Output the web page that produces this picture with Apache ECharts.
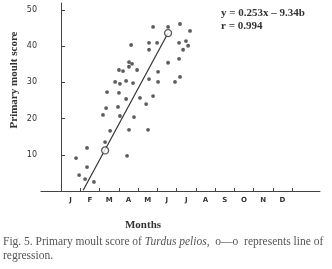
<!DOCTYPE html>
<html><head><meta charset="utf-8">
<script src="https://cdn.jsdelivr.net/npm/echarts@6/dist/echarts.min.js"></script>
<style>html,body{margin:0;padding:0;background:#fff}#c{width:332px;height:269px}</style>
</head><body><div id="c"></div>
<script>
// Month index (0 = start of January), moult score
const months = ['J','F','M','A','M','J','J','A','S','O','N','D'];
const monthTicks = [0,1,2,3,4,5,6,7,8,9,10,11,12];
const monthLabelPos = [0.5,1.5,2.5,3.5,4.5,5.5,6.5,7.5,8.5,9.5,10.5,11.5];
const yTicks = [10,20,30,40,50];
const pointMonth = [4.78,5.56,6.18,6.70,3.64,4.57,4.57,4.99,6.13,6.49,6.60,6.34,3.53,3.69,3.53,3.01,3.22,3.95,5.04,5.56,6.13,2.81,3.06,3.38,3.74,4.57,5.04,6.18,5.92,2.39,3.01,3.38,4.10,4.42,4.78,2.34,2.18,2.96,3.06,3.79,3.53,4.52,2.55,2.29,1.35,0.78,3.43,1.35,0.94,1.25,1.71];
const pointScore = [45.3,45.3,46.1,44.2,40.3,40.9,39.0,40.9,40.9,41.4,40.1,39.0,35.6,35.1,34.3,33.4,33.1,33.4,32.9,35.4,36.5,30.1,29.6,30.4,29.8,30.9,30.1,31.5,30.1,27.3,27.1,25.4,25.7,24.0,26.2,22.9,21.0,23.2,20.7,20.4,16.9,16.9,16.6,13.5,11.9,9.1,9.7,6.6,4.4,3.3,2.5];
const lineMonth = [1.15,5.56];
const lineScore = [0.2,43.6];
const circleMonth = [2.29,5.56];
const circleScore = [11.2,43.6];
const zip = (a,b)=>a.map((v,i)=>[v,b[i]]);

const chart = echarts.init(document.getElementById('c'));
const ink = '#333';
chart.setOption({
  animation:false,
  backgroundColor:'#fff',
  grid:{left:41,right:12,top:3,bottom:78},
  xAxis:{type:'value',min:-1.04,max:13.45,
    axisLine:{show:true,lineStyle:{color:'#444',width:1}},
    splitLine:{show:false},
    axisTick:{show:true,inside:true,length:3,customValues:monthTicks,lineStyle:{color:'#444'}},
    axisLabel:{customValues:monthLabelPos,formatter:v=>months[Math.floor(v)],color:ink,fontFamily:'DejaVu Sans',fontSize:7,fontWeight:'bold',margin:6}
  },
  yAxis:{type:'value',min:0,max:51.9,
    axisLine:{show:true,lineStyle:{color:'#444',width:1}},
    splitLine:{show:false},
    axisTick:{show:true,inside:true,length:4,customValues:yTicks,lineStyle:{color:'#444'}},
    axisLabel:{customValues:yTicks,color:ink,fontFamily:'DejaVu Sans',fontSize:8,margin:4}
  },
  graphic:[
    {type:'text',left:221,top:8,style:{text:'y = 0.253x \u2013 9.34b',font:'bold 11px "Liberation Serif"',fill:'#333'}},
    {type:'text',left:221,top:21,style:{text:'r = 0.994',font:'bold 11px "Liberation Serif"',fill:'#333'}},
    {type:'text',x:14,y:80,rotation:Math.PI/2,style:{text:'Primary moult score',font:'bold 11px "Liberation Serif"',fill:'#333',align:'center',verticalAlign:'middle'}},
    {type:'text',x:143,y:225,style:{text:'Months',font:'bold 11px "Liberation Serif"',fill:'#333',align:'center',verticalAlign:'middle'}},
    {type:'text',left:3,top:236,style:{text:'{n|Fig. 5. Primary moult score of }{i|Turdus pelios}{n|,  o\u2014o  represents line of}',rich:{n:{font:'11.5px "Liberation Serif"',fill:'#555'},i:{font:'italic 11.5px "Liberation Serif"',fill:'#555'}}}},
    {type:'text',left:3,top:250,style:{text:'regression.',font:'11.5px "Liberation Serif"',fill:'#555'}}
  ],
  series:[
    {type:'scatter',data:zip(pointMonth,pointScore),symbol:'circle',symbolSize:3.8,itemStyle:{color:'#333'}},
    {type:'line',data:zip(lineMonth,lineScore),symbol:'none',lineStyle:{color:'#333',width:1.2}},
    {type:'scatter',data:zip(circleMonth,circleScore),symbol:'circle',symbolSize:7,itemStyle:{color:'#fff',borderColor:'#333',borderWidth:1.3},z:5}
  ]
});
</script></body></html>
